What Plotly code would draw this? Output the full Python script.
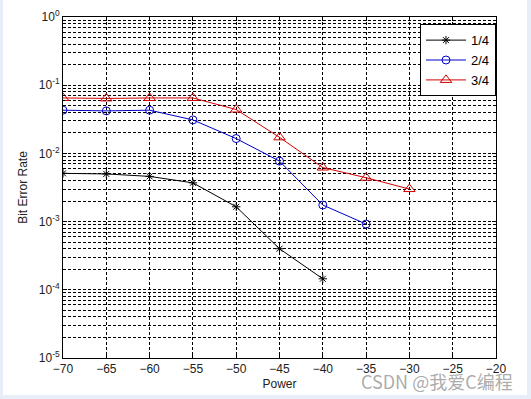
import plotly.graph_objects as go

power = [-70, -65, -60, -55, -50, -45, -40, -35, -30]
ber_14 = [5.1e-3, 5.0e-3, 4.6e-3, 3.7e-3, 1.65e-3, 4.0e-4, 1.45e-4]
ber_24 = [0.043, 0.042, 0.043, 0.031, 0.0165, 7.7e-3, 1.75e-3, 9.2e-4]
ber_34 = [0.065, 0.064, 0.065, 0.065, 0.044, 0.0172, 6.2e-3, 4.4e-3, 3.0e-3]
names = ["1/4", "2/4", "3/4"]
y_tickvals = [1e-5, 1e-4, 1e-3, 1e-2, 1e-1, 1e0]
y_ticktext = ["10<sup>-5</sup>", "10<sup>-4</sup>", "10<sup>-3</sup>",
              "10<sup>-2</sup>", "10<sup>-1</sup>", "10<sup>0</sup>"]
x_tickvals = [-70, -65, -60, -55, -50, -45, -40, -35, -30, -25, -20]

fig = go.Figure()
fig.add_trace(go.Scatter(x=power[:len(ber_14)], y=ber_14, name=names[0], mode="lines+markers",
                         line=dict(color="black", width=1),
                         marker=dict(symbol="asterisk-open", size=7, color="black",
                                     line=dict(color="black", width=1))))
fig.add_trace(go.Scatter(x=power[:len(ber_24)], y=ber_24, name=names[1], mode="lines+markers",
                         line=dict(color="#0000cc", width=1),
                         marker=dict(symbol="circle-open", size=8, color="#0000cc",
                                     line=dict(color="#0000cc", width=1))))
fig.add_trace(go.Scatter(x=power[:len(ber_34)], y=ber_34, name=names[2], mode="lines+markers",
                         line=dict(color="#d40000", width=1),
                         marker=dict(symbol="triangle-up-open", size=10, color="#d40000",
                                     line=dict(color="#d40000", width=1))))

dash = "3px,2px"
axis_font = dict(family="Liberation Sans, Arial, sans-serif", size=12, color="#222222")
fig.update_layout(
    width=531, height=399,
    margin=dict(l=63, r=35, t=17, b=41, autoexpand=False),
    paper_bgcolor="#e8eef8",
    plot_bgcolor="white",
    font=axis_font,
    showlegend=True,
    legend=dict(x=1, xanchor="right", y=0.979, yanchor="top",
                bgcolor="white", bordercolor="black", borderwidth=1,
                font=dict(family="Liberation Sans, Arial, sans-serif", size=13, color="black"),
                tracegroupgap=0, itemwidth=40),
    xaxis=dict(range=[-70, -20], tickvals=x_tickvals, ticks="inside", ticklen=4,
               tickcolor="black", showline=True, linecolor="black", linewidth=1,
               mirror="ticks", showgrid=True, gridcolor="black", griddash=dash,
               gridwidth=0.7, zeroline=False, automargin=False,
               title=dict(text="Power", font=dict(size=12), standoff=4)),
    yaxis=dict(type="log", range=[-5, 0], tickvals=y_tickvals, ticktext=y_ticktext,
               ticks="inside", ticklen=4, tickcolor="black", showline=True,
               linecolor="black", linewidth=1, mirror="ticks",
               showgrid=True, gridcolor="black", griddash=dash, gridwidth=0.7,
               zeroline=False, automargin=False,
               minor=dict(dtick="D1", showgrid=True, gridcolor="black", griddash=dash,
                          gridwidth=0.7, ticks="inside", ticklen=2, tickcolor="black"),
               title=dict(text="Bit Error Rate", font=dict(size=12), standoff=8)),
    shapes=[dict(type="rect", xref="paper", yref="paper", x0=-0.1386, x1=1.0716,
                 y0=-0.1085, y1=1.06, fillcolor="white", line=dict(width=0),
                 layer="below")],
    annotations=[dict(text="CSDN @我爱C编程", xref="paper", yref="paper",
                      x=1.044, y=-0.067, xanchor="right", yanchor="middle", showarrow=False,
                      font=dict(family="Noto Sans CJK SC, sans-serif", size=18,
                                color="rgba(150,150,150,0.8)"))],
)
fig.write_html("out.html", config={"displayModeBar": False},
               post_script="document.body.style.margin='0px';")
